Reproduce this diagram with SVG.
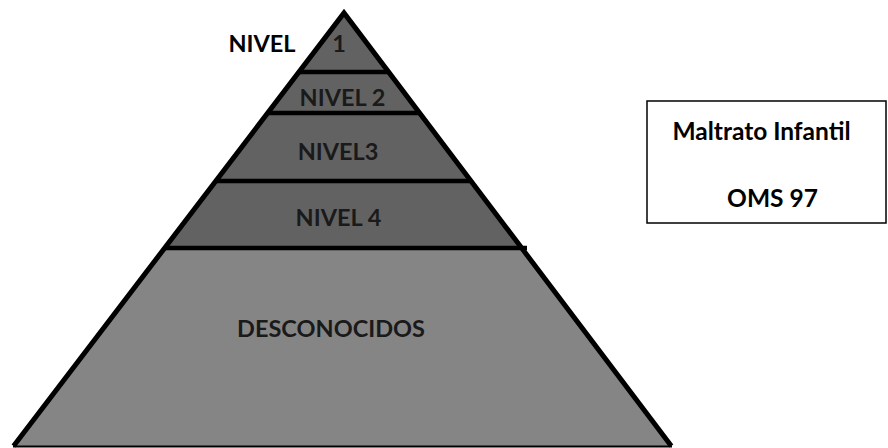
<svg xmlns="http://www.w3.org/2000/svg" width="888" height="448" viewBox="0 0 888 448">
<style>
.dark{fill:#626262}
.light{fill:#858585}
.sep{stroke:#000;stroke-width:4.5;stroke-linecap:butt}
.lbl{font-family:Lato,"Liberation Sans",sans-serif;font-weight:700;font-size:23.5px;fill:#1a1a1a;text-anchor:middle}
.blk{font-family:Lato,"Liberation Sans",sans-serif;font-weight:700;font-size:23.5px;fill:#000;text-anchor:middle}
.box{font-family:Lato,"Liberation Sans",sans-serif;font-weight:700;font-size:24.5px;fill:#000;text-anchor:middle}
</style>
<rect width="888" height="448" fill="#fff"/>
<g id="tier5">
<polygon class="light" points="164.7,248 521.7,248 671.3,446 13.6,446"/>
<text class="lbl" x="331" y="337">DESCONOCIDOS</text>
</g>
<g id="tier4">
<polygon class="dark" points="215.8,181 471,181 521.7,248 164.7,248"/>
<text class="lbl" x="338.5" y="226">NIVEL 4</text>
</g>
<g id="tier3">
<polygon class="dark" points="267.7,113 420.6,113 471,181 215.8,181"/>
<text class="lbl" x="338" y="160">NIVEL3</text>
</g>
<g id="tier2">
<polygon class="dark" points="299,72 389.6,72 420.6,113 267.7,113"/>
<text class="lbl" x="342.5" y="106">NIVEL 2</text>
</g>
<g id="tier1">
<polygon class="dark" points="344,13 389.6,72 299,72"/>
<text class="blk" x="262" y="52">NIVEL</text>
<text class="lbl" x="339" y="52">1</text>
</g>
<g id="outline">
<polyline points="13.6,446 344,13 671.3,446" fill="none" stroke="#000" stroke-width="5" stroke-linejoin="miter"/>
<line x1="13" y1="446.5" x2="672" y2="446.5" stroke="#000" stroke-width="2"/>
<line class="sep" x1="299" y1="72" x2="389.6" y2="72"/>
<line class="sep" x1="267.7" y1="113" x2="420.6" y2="113"/>
<line class="sep" x1="215.8" y1="181" x2="471" y2="181"/>
<line class="sep" x1="164.7" y1="248" x2="527" y2="248"/>
</g>
<g id="legend">
<rect x="647" y="101" width="239" height="122" fill="#fff" stroke="#000" stroke-width="1.5"/>
<text class="box" x="761.5" y="140">Maltrato Infantil</text>
<text class="box" x="772.5" y="207">OMS 97</text>
</g>
</svg>
